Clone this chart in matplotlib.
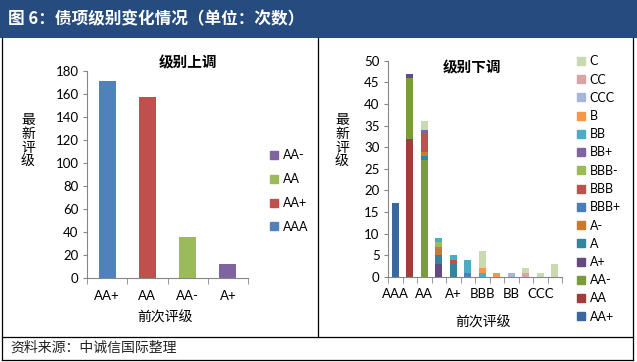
import matplotlib
matplotlib.use("Agg")
import matplotlib.pyplot as plt
from matplotlib.patches import Rectangle, Patch
from matplotlib.lines import Line2D
import numpy as np

plt.rcParams['font.family'] = ['Lato', 'Noto Sans CJK SC', 'DejaVu Sans']

W, H = 637, 362

# ---- data: 级别上调 ----
up_cats = ['AA+', 'AA', 'AA-', 'A+']
up_series = ['AAA', 'AA+', 'AA', 'AA-']
up_aaa = [171, 0, 0, 0]
up_aa_plus = [0, 157, 0, 0]
up_aa = [0, 0, 36, 0]
up_aa_minus = [0, 0, 0, 12]
up_colors = ['#4F81BD', '#C0504D', '#9BBB59', '#8064A2']

# ---- data: 级别下调 ----
down_cats = ['AAA', 'AA+', 'AA', 'AA-', 'A+', 'A', 'BBB', 'BBB-', 'BB', 'B', 'CCC', 'CC']
down_series = ['AA+', 'AA', 'AA-', 'A+', 'A', 'A-', 'BBB+', 'BBB', 'BBB-',
               'BB+', 'BB', 'B', 'CCC', 'CC', 'C']
d_aa_plus = [17, 0, 0, 0, 0, 0, 0, 0, 0, 0, 0, 0]
d_aa = [0, 32, 0, 0, 0, 0, 0, 0, 0, 0, 0, 0]
d_aa_minus = [0, 14, 27, 0, 0, 0, 0, 0, 0, 0, 0, 0]
d_a_plus = [0, 1, 0, 3, 0, 0, 0, 0, 0, 0, 0, 0]
d_a = [0, 0, 1, 2, 3, 0, 0, 0, 0, 0, 0, 0]
d_a_minus = [0, 0, 1, 2, 0, 0, 0, 0, 0, 0, 0, 0]
d_bbb_plus = [0, 0, 0, 0, 0, 1, 0, 0, 0, 0, 0, 0]
d_bbb = [0, 0, 4, 0, 1, 0, 0, 0, 0, 0, 0, 0]
d_bbb_minus = [0, 0, 0, 1, 0, 0, 0, 0, 0, 0, 0, 0]
d_bb_plus = [0, 0, 1, 0, 0, 0, 0, 0, 0, 0, 0, 0]
d_bb = [0, 0, 0, 1, 1, 3, 1, 0, 0, 0, 0, 0]
d_b = [0, 0, 0, 0, 0, 0, 1, 1, 0, 0, 0, 0]
d_ccc = [0, 0, 0, 0, 0, 0, 0, 0, 1, 0, 0, 0]
d_cc = [0, 0, 0, 0, 0, 0, 0, 0, 0, 1, 0, 0]
d_c = [0, 0, 2, 0, 0, 0, 4, 0, 0, 1, 1, 3]
down_colors = ['#3A679E', '#A03D3A', '#7A9A3E', '#634B80', '#31859C', '#C77A30',
               '#4A7EBB', '#C0504D', '#9BBB59', '#8064A2', '#4BACC6', '#F79646',
               '#A5B6DC', '#D8A5A4', '#C9D9B0']

up_values = [up_aaa, up_aa_plus, up_aa, up_aa_minus]
down_values = [d_aa_plus, d_aa, d_aa_minus, d_a_plus, d_a, d_a_minus, d_bbb_plus,
               d_bbb, d_bbb_minus, d_bb_plus, d_bb, d_b, d_ccc, d_cc, d_c]

fig = plt.figure(figsize=(W / 100, H / 100), dpi=100)


def fx(px):
    return px / W


def fy(py):
    return 1 - py / H


# header bar
fig.patches.append(Rectangle((0, fy(38)), 1, 38 / H, transform=fig.transFigure,
                             facecolor='#264B7E', edgecolor='none', zorder=0))
fig.text(fx(8), fy(19), '图 6：债项级别变化情况（单位：次数）', color='white',
         fontsize=12, fontweight='bold', va='center', ha='left',
         family=['Noto Sans CJK SC'])

# frame lines
lc = 'black'
lw = 0.9
for (x0, y0, x1, y1) in [(2, 38, 2, 360), (633, 38, 633, 360), (318, 38, 318, 337),
                         (2, 337, 633, 337), (2, 360, 633, 360)]:
    fig.add_artist(Line2D([fx(x0), fx(x1)], [fy(y0), fy(y1)], color=lc, lw=lw,
                          transform=fig.transFigure))

fig.text(fx(10), fy(348), '资料来源：中诚信国际整理', fontsize=10, style='italic',
         va='center', ha='left', color='#222222', family=['Noto Sans CJK SC'])


def style_axis(ax, xpad):
    for s in ['top', 'right']:
        ax.spines[s].set_visible(False)
    for s in ['left', 'bottom']:
        ax.spines[s].set_color('#868686')
        ax.spines[s].set_linewidth(0.8)
    ax.tick_params(axis='y', direction='out', length=3, color='#868686',
                   labelsize=9.5, pad=3)
    ax.tick_params(axis='x', which='major', length=0, labelsize=9.5, pad=xpad)
    ax.tick_params(axis='x', which='minor', direction='out', length=4, color='#868686')


# ---- left chart ----
ax1 = fig.add_axes([fx(87), fy(278), fx(248) - fx(87), (278 - 70.7) / H])
x = np.arange(len(up_cats))
bottom = np.zeros(len(up_cats))
for name, vals, col in zip(up_series, up_values, up_colors):
    ax1.bar(x, vals, width=0.42, bottom=bottom, color=col, label=name)
    bottom += np.array(vals)
ax1.set_xlim(-0.5, len(up_cats) - 0.5)
ax1.set_ylim(0, 180)
ax1.set_yticks(range(0, 181, 20))
ax1.set_xticks(x)
ax1.set_xticklabels(up_cats)
ax1.set_xticks(np.arange(-0.5, len(up_cats), 1), minor=True)
style_axis(ax1, 9)
fig.text(fx(188), fy(62), '级别上调', fontsize=10.5, fontweight='bold', ha='center',
         va='center', family=['Noto Sans CJK SC'])
fig.text(fx(28), fy(141), '最\n新\n评\n级', fontsize=10, ha='center', va='center',
         linespacing=1.0, family=['Noto Sans CJK SC'])
fig.text(fx(165), fy(318), '前次评级', fontsize=10, ha='center', va='center',
         family=['Noto Sans CJK SC'])
h1 = [Patch(color=c) for c in up_colors][::-1]
fig.legend(h1, up_series[::-1], loc='center left', bbox_to_anchor=(fx(265), fy(191)),
           frameon=False, fontsize=9, handlelength=0.6, handleheight=0.6,
           handletextpad=0.4, labelspacing=0.95, borderaxespad=0)

# ---- right chart ----
ax2 = fig.add_axes([fx(388), fy(277), fx(562) - fx(388), (277 - 60.7) / H])
x2 = np.arange(len(down_cats))
bottom = np.zeros(len(down_cats))
for name, vals, col in zip(down_series, down_values, down_colors):
    ax2.bar(x2, vals, width=0.45, bottom=bottom, color=col, label=name)
    bottom += np.array(vals)
ax2.set_xlim(-0.5, len(down_cats) - 0.5)
ax2.set_ylim(0, 50)
ax2.set_yticks(range(0, 51, 5))
ax2.set_xticks(x2)
ax2.set_xticklabels([c if i % 2 == 0 else '' for i, c in enumerate(down_cats)])
ax2.set_xticks(np.arange(-0.5, len(down_cats), 1), minor=True)
style_axis(ax2, 8)
fig.text(fx(472), fy(67), '级别下调', fontsize=10.5, fontweight='bold', ha='center',
         va='center', family=['Noto Sans CJK SC'])
fig.text(fx(342), fy(141), '最\n新\n评\n级', fontsize=10, ha='center', va='center',
         linespacing=1.0, family=['Noto Sans CJK SC'])
fig.text(fx(483), fy(323), '前次评级', fontsize=10, ha='center', va='center',
         family=['Noto Sans CJK SC'])
h2 = [Patch(color=c) for c in down_colors][::-1]
fig.legend(h2, down_series[::-1], loc='center left', bbox_to_anchor=(fx(572), fy(189)),
           frameon=False, fontsize=9, handlelength=0.6, handleheight=0.6,
           handletextpad=0.4, labelspacing=0.5, borderaxespad=0)

fig.savefig('out.png', dpi=100)
